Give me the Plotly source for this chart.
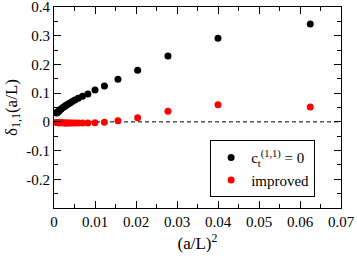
import plotly.graph_objects as go

# x = (a/L)^2
x_black = [0.0625, 0.0400, 0.0278, 0.0204, 0.0156, 0.0123, 0.0100, 0.00826, 0.00694,
           0.00592, 0.00510, 0.00444, 0.00391, 0.00346, 0.00309, 0.00277, 0.00250,
           0.00207, 0.00174, 0.00148, 0.00128, 0.00111, 0.00098, 0.00087, 0.00078,
           0.00069, 0.00059]
y_black = [0.341, 0.291, 0.229, 0.180, 0.148, 0.125, 0.111, 0.097, 0.089,
           0.082, 0.076, 0.071, 0.066, 0.062, 0.059, 0.056, 0.053,
           0.049, 0.045, 0.042, 0.039, 0.037, 0.035, 0.034, 0.033,
           0.032, 0.031]
x_red = x_black
y_red = [0.052, 0.060, 0.037, 0.014, 0.004, -0.001, -0.003, -0.004, -0.004,
         -0.004, -0.004, -0.004, -0.004, -0.004, -0.004, -0.004, -0.004,
         -0.003, -0.003, -0.003, -0.003, -0.003, -0.003, -0.002, -0.002,
         -0.002, -0.002]

x_ticks = [0, 0.01, 0.02, 0.03, 0.04, 0.05, 0.06, 0.07]
x_labels = ["0", "0.01", "0.02", "0.03", "0.04", "0.05", "0.06", "0.07"]
y_ticks = [-0.2, -0.1, 0, 0.1, 0.2, 0.3, 0.4]
y_labels = ["-0.2", "-0.1", "0", "0.1", "0.2", "0.3", "0.4"]

FONT = "Liberation Serif"

fig = go.Figure()
fig.add_trace(go.Scatter(x=x_black, y=y_black, mode="markers",
                         marker=dict(color="black", size=7),
                         name="c<sub>t</sub><sup>(1,1)</sup> = 0"))
fig.add_trace(go.Scatter(x=x_red, y=y_red, mode="markers",
                         marker=dict(color="#ff0000", size=7),
                         name="improved"))

fig.add_shape(type="line", x0=0, x1=0.07, y0=0, y1=0, xref="x", yref="y",
              line=dict(color="black", width=1, dash="4px,3px"), layer="below")

axis_common = dict(showgrid=False, zeroline=False, showline=True, linecolor="black",
                   linewidth=1, mirror="ticks", ticks="inside", ticklen=7,
                   tickcolor="black", tickwidth=1, automargin=False,
                   ticklabeloverflow="allow",
                   tickfont=dict(family=FONT, size=15, color="black"))

fig.update_xaxes(range=[0, 0.07], tickvals=x_ticks, ticktext=x_labels,
                 minor=dict(ticks="inside", ticklen=4, dtick=0.005, tickcolor="black"),
                 title=dict(text="(a/L)<sup>2</sup>", font=dict(family=FONT, size=17, color="black"),
                            standoff=8),
                 **axis_common)
fig.update_yaxes(range=[-0.3, 0.4], tickvals=y_ticks, ticktext=y_labels,
                 minor=dict(ticks="inside", ticklen=4, dtick=0.05, tickcolor="black"),
                 title=dict(text="δ<sub>1,1</sub>(a/L)", font=dict(family=FONT, size=17, color="black"),
                            standoff=4),
                 **axis_common)

fig.update_layout(width=357, height=260, margin=dict(l=54, r=16, t=7, b=52),
                  font=dict(family=FONT),
                  plot_bgcolor="white", paper_bgcolor="white",
                  showlegend=True,
                  legend=dict(x=0.544, y=0.337, xanchor="left", yanchor="top",
                              bordercolor="black", borderwidth=1, bgcolor="white",
                              font=dict(family=FONT, size=15, color="black"),
                              itemsizing="trace", tracegroupgap=0))

fig.write_html("out.html", config={"displayModeBar": False},
               post_script="document.body.style.margin='0';document.body.style.padding='0';")
